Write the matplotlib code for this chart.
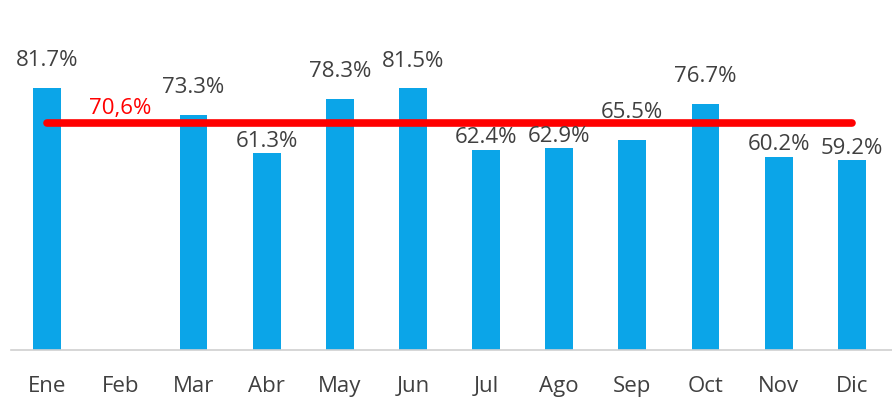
import matplotlib.pyplot as plt
import numpy as np

MONTHS = ["Ene", "Feb", "Mar", "Abr", "May", "Jun", "Jul", "Ago", "Sep", "Oct", "Nov", "Dic"]
VALUES = [81.7, np.nan, 73.3, 61.3, 78.3, 81.5, 62.4, 62.9, 65.5, 76.7, 60.2, 59.2]
AVERAGE = 70.6
AVERAGE_LABEL = "70,6%"

BAR_COLOR = "#0BA5E8"
TEXT_COLOR = "#404040"

plt.rcParams["font.family"] = ["Open Sans", "DejaVu Sans"]

fig = plt.figure(figsize=(8.92, 4.05), dpi=100)
ax = fig.add_axes([0.012, 0.136, 0.988, 0.84])

x = np.arange(len(MONTHS))
vals = np.array(VALUES, dtype=float)
mask = ~np.isnan(vals)
ax.bar(x[mask], vals[mask], width=0.38, color=BAR_COLOR, zorder=2)

# labels of bars well below the average line sit tight on the bar, under the line
for xi, v in zip(x[mask], vals[mask]):
    offset = 12 if v > AVERAGE - 6 else 1
    ax.annotate(f"{v:.1f}%", (xi, v), xytext=(0, offset), textcoords="offset points",
                ha="center", va="bottom", fontsize=16, color=TEXT_COLOR, zorder=4)

ax.plot([x[0], x[-1]], [AVERAGE, AVERAGE], color="#FF0000", linewidth=5.5,
        solid_capstyle="round", zorder=3)
ax.annotate(AVERAGE_LABEL, (1, AVERAGE), xytext=(0, 3), textcoords="offset points",
            ha="center", va="bottom", fontsize=16, color="#FF0000")

ax.set_xlim(-0.5, 11.55)
ax.set_ylim(0, 106)
ax.set_xticks(x)
ax.set_xticklabels(MONTHS, fontsize=16, color=TEXT_COLOR)
ax.tick_params(axis="x", length=0, pad=19)
ax.set_yticks([])
for side in ["top", "right", "left"]:
    ax.spines[side].set_visible(False)
ax.spines["bottom"].set_color("#D0D0D0")
ax.spines["bottom"].set_linewidth(1.2)

fig.savefig("out.png", dpi=100)
plt.close(fig)
